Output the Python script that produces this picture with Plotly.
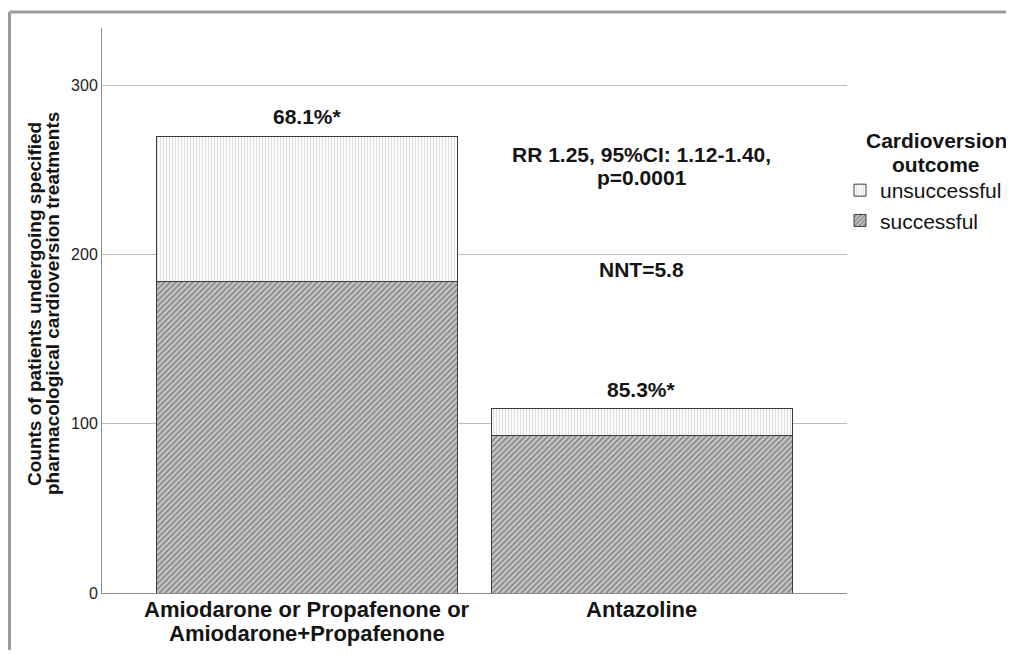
import plotly.graph_objects as go

# ---- data ----
categories = ["Amiodarone or Propafenone or<br>Amiodarone+Propafenone", "Antazoline"]
successful = [184, 93]
unsuccessful = [86, 16]
pct_labels = ["68.1%*", "85.3%*"]
y_ticks = [0, 100, 200, 300]
stats_lines = ["RR 1.25, 95%CI: 1.12-1.40,", "p=0.0001"]
nnt_text = "NNT=5.8"
legend_title_lines = ["Cardioversion", "outcome"]
y_title_lines = ["Counts of patients undergoing specified",
                 "pharmacological cardioversion treatments"]

FONT = "Liberation Sans, Arial, sans-serif"
TXT = "#141414"

totals = [s + u for s, u in zip(successful, unsuccessful)]

# page has an 8px body margin: work in screen pixels and convert
OFF = 8
W, H = 1014 - OFF, 658 - 2 * OFF
PL, PR, PT, PB = 102, 847, 28, 593          # plot area in screen px
L, R, T, B = PL - OFF, W - (PR - OFF), PT - OFF, H - (PB - OFF)
pw, ph = W - L - R, H - T - B


def px_x(x):
    return (x - OFF - L) / pw


def px_y(y):
    return (H - B - (y - OFF)) / ph


fig = go.Figure()
fig.add_trace(go.Bar(
    x=categories, y=successful, name="successful", width=0.9,
    marker=dict(color="#bdbdbd", line=dict(color="#3c3c3c", width=1),
                pattern=dict(shape="/", fgcolor="#444444", bgcolor="#c8c8c8",
                             size=4, solidity=0.45)),
))
fig.add_trace(go.Bar(
    x=categories, y=unsuccessful, name="unsuccessful", width=0.9,
    marker=dict(color="#f0f0f0", line=dict(color="#3c3c3c", width=1),
                pattern=dict(shape="|", fgcolor="#c4c4c4", bgcolor="#fafafa",
                             size=3, solidity=0.35)),
))

annotations = []
# percentage labels above bars
for cat, tot, lab in zip(categories, totals, pct_labels):
    annotations.append(dict(x=cat, y=tot, text="<b>%s</b>" % lab, showarrow=False,
                            yanchor="bottom", yshift=7, borderpad=0,
                            font=dict(family=FONT, size=21, color=TXT)))
# statistics text
for i, line in enumerate(stats_lines):
    annotations.append(dict(x=categories[1], xref="x", yref="paper",
                            y=px_y(154 + 24 * i), text="<b>%s</b>" % line,
                            showarrow=False, yanchor="middle", borderpad=0,
                            font=dict(family=FONT, size=21, color=TXT)))
annotations.append(dict(x=categories[1], xref="x", yref="paper", y=px_y(269),
                        text="<b>%s</b>" % nnt_text, showarrow=False, yanchor="middle",
                        borderpad=0, font=dict(family=FONT, size=21, color=TXT)))
# category labels (one annotation per line for tight line spacing)
for cat in categories:
    for j, line in enumerate(cat.split("<br>")):
        annotations.append(dict(x=cat, xref="x", yref="paper", y=px_y(609 + 24 * j),
                                text="<b>%s</b>" % line, showarrow=False,
                                yanchor="middle", borderpad=0,
                                font=dict(family=FONT, size=22, color=TXT)))
# y axis title (two lines)
for j, line in enumerate(y_title_lines):
    annotations.append(dict(xref="paper", yref="paper", x=px_x(34 + 18 * j), y=px_y(304),
                            text="<b>%s</b>" % line, showarrow=False, textangle=-90,
                            xanchor="center", yanchor="middle", borderpad=0,
                            font=dict(family=FONT, size=19, color=TXT)))
# legend title (centred, two lines)
for j, line in enumerate(legend_title_lines):
    annotations.append(dict(xref="paper", yref="paper", x=px_x(936), y=px_y(140 + 24 * j),
                            text="<b>%s</b>" % line, showarrow=False,
                            xanchor="center", yanchor="middle", borderpad=0,
                            font=dict(family=FONT, size=21, color=TXT)))

shapes = [
    dict(type="line", xref="paper", yref="paper", x0=px_x(9.5), x1=px_x(1020),
         y0=px_y(12), y1=px_y(12), line=dict(color="#9c9c9c", width=3)),
    dict(type="line", xref="paper", yref="paper", x0=px_x(9.5), x1=px_x(9.5),
         y0=px_y(12), y1=px_y(680), line=dict(color="#9c9c9c", width=3)),
]

fig.update_layout(
    width=W, height=H,
    margin=dict(l=L, r=R, t=T, b=B, autoexpand=False),
    barmode="stack",
    plot_bgcolor="white", paper_bgcolor="white",
    font=dict(family=FONT, color=TXT),
    annotations=annotations,
    shapes=shapes,
    legend=dict(
        x=px_x(840), y=px_y(170), xanchor="left", yanchor="top",
        font=dict(family=FONT, size=21, color=TXT),
        traceorder="reversed", itemwidth=30, tracegroupgap=0,
        bgcolor="rgba(0,0,0,0)",
    ),
    xaxis=dict(
        type="category", range=[-0.612, 1.612],
        showline=True, linecolor="#8c8c8c", linewidth=1,
        ticks="", showgrid=False, showticklabels=False,
    ),
    yaxis=dict(
        range=[0, 334], tickvals=y_ticks,
        showline=True, linecolor="#8c8c8c", linewidth=1,
        showgrid=True, gridcolor="#bdbdbd", gridwidth=1, zeroline=False,
        ticks="", tickfont=dict(family=FONT, size=16, color="#222222"),
    ),
)

fig.write_html("out.html")
